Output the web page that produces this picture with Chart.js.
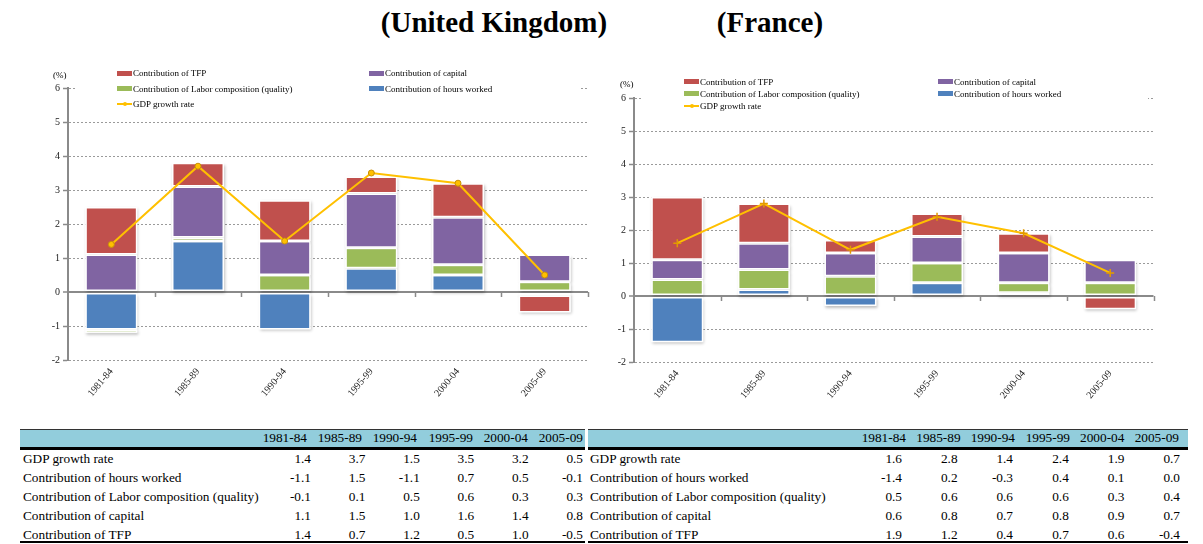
<!DOCTYPE html>
<html>
<head>
<meta charset="utf-8">
<script src="https://cdn.jsdelivr.net/npm/chart.js@4/dist/chart.umd.min.js"></script>
<style>
  html, body { margin: 0; padding: 0; background: #fff; }
  body { width: 1203px; height: 544px; position: relative; overflow: hidden;
         font-family: 'Liberation Serif', 'Times New Roman', serif; color: #000; }
  .abs { position: absolute; white-space: nowrap; }
  .title { font-weight: bold; font-size: 29px; line-height: 34px; }
  .lg { font-size: 9px; line-height: 12px; }
  .tb { font-size: 13.3px; line-height: 16px; }
  canvas { position: absolute; }
</style>
</head>
<body>
<div class="abs title" id="t-uk">(United Kingdom)</div>
<div class="abs title" id="t-fr">(France)</div>
<canvas id="uk" width="600" height="370" style="left:0;top:50px;width:600px;height:370px"></canvas>
<canvas id="fr" width="600" height="370" style="left:590px;top:60px;width:600px;height:370px"></canvas>

<script>
// Periods and tick values
const PERIODS = ['1981-84', '1985-89', '1990-94', '1995-99', '2000-04', '2005-09'];
const Y_MIN = -2;
const Y_MAX = 6;

// United Kingdom (%)
const UK_GDP     = [1.4, 3.7, 1.5, 3.5, 3.2, 0.5];
const UK_HOURS   = [-1.1, 1.5, -1.1, 0.7, 0.5, -0.1];
const UK_LABOR   = [-0.1, 0.1, 0.5, 0.6, 0.3, 0.3];
const UK_CAPITAL = [1.1, 1.5, 1.0, 1.6, 1.4, 0.8];
const UK_TFP     = [1.4, 0.7, 1.2, 0.5, 1.0, -0.5];

// France (%)
const FR_GDP     = [1.6, 2.8, 1.4, 2.4, 1.9, 0.7];
const FR_HOURS   = [-1.4, 0.2, -0.3, 0.4, 0.1, 0.0];
const FR_LABOR   = [0.5, 0.6, 0.6, 0.6, 0.3, 0.4];
const FR_CAPITAL = [0.6, 0.8, 0.7, 0.8, 0.9, 0.7];
const FR_TFP     = [1.9, 1.2, 0.4, 0.7, 0.6, -0.4];

const ROW_NAMES = ['GDP growth rate', 'Contribution of hours worked',
  'Contribution of Labor composition (quality)', 'Contribution of capital', 'Contribution of TFP'];

const C_TFP = '#C0504D', C_CAP = '#8064A2', C_LAB = '#9BBB59', C_HRS = '#4F81BD', C_GDP = '#FFC000';
const SERIF = "'Liberation Serif', 'Times New Roman', serif";
const AXIS_GREY = '#8a8a8a';

function el(cls, text, css) {
  const d = document.createElement('div');
  d.className = 'abs ' + cls;
  if (text !== null) d.textContent = text;
  Object.assign(d.style, css);
  document.body.appendChild(d);
  return d;
}

// Titles
(function () {
  const uk = document.getElementById('t-uk');
  const fr = document.getElementById('t-fr');
  uk.style.left = '300px'; uk.style.width = '388px'; uk.style.textAlign = 'center'; uk.style.top = '5px';
  fr.style.left = '620px'; fr.style.width = '300px'; fr.style.textAlign = 'center'; fr.style.top = '5px';
})();

// Soft drop shadow behind each bar segment
const barShadow = {
  id: 'barShadow',
  beforeDatasetsDraw(chart) {
    const ctx = chart.ctx;
    ctx.save();
    ctx.shadowColor = 'rgba(0,0,0,0.25)';
    ctx.shadowBlur = 3;
    ctx.shadowOffsetX = 1;
    ctx.shadowOffsetY = 2;
    ctx.fillStyle = '#fff';
    chart.data.datasets.forEach((ds, i) => {
      const meta = chart.getDatasetMeta(i);
      if (meta.type !== 'bar') return;
      meta.data.forEach(b => {
        const p = b.getProps(['x', 'y', 'base', 'width'], true);
        const top = Math.min(p.y, p.base), h = Math.abs(p.base - p.y);
        if (h < 0.5) return;
        ctx.fillRect(p.x - p.width / 2, top, p.width, h);
      });
    });
    ctx.restore();
  }
};

// Tick marks hanging from the zero line at the category boundaries
const zeroAxisTicks = {
  id: 'zeroAxisTicks',
  afterDatasetsDraw(chart) {
    const { ctx, scales: { x, y } } = chart;
    const y0 = y.getPixelForValue(0);
    const n = chart.data.labels.length;
    ctx.save();
    ctx.strokeStyle = AXIS_GREY;
    ctx.lineWidth = 1.5;
    ctx.beginPath();
    for (let i = 1; i <= n; i++) {
      const px = Math.round(x.getPixelForValue(i - 0.5)) + 0.5;
      ctx.moveTo(px, y0);
      ctx.lineTo(px, y0 + 5);
    }
    ctx.stroke();
    ctx.restore();
  }
};

function makeChart(id, d, geo) {
  const isZero = c => c.tick && c.tick.value === 0;
  return new Chart(document.getElementById(id), {
    type: 'bar',
    data: {
      labels: PERIODS,
      datasets: [
        { type: 'line', label: 'GDP growth rate', data: d.gdp, stack: 'gdp', order: 0,
          borderColor: C_GDP, borderWidth: 2, tension: 0,
          pointStyle: geo.point, pointRadius: geo.pointRadius,
          pointBackgroundColor: C_GDP, pointBorderColor: geo.pointBorder, pointBorderWidth: geo.pointBorderWidth },
        { label: 'Contribution of hours worked', data: d.hours, backgroundColor: C_HRS, stack: 's', order: 1 },
        { label: 'Contribution of Labor composition (quality)', data: d.labor, backgroundColor: C_LAB, stack: 's', order: 1 },
        { label: 'Contribution of capital', data: d.capital, backgroundColor: C_CAP, stack: 's', order: 1 },
        { label: 'Contribution of TFP', data: d.tfp, backgroundColor: C_TFP, stack: 's', order: 1 }
      ]
    },
    options: {
      responsive: false,
      animation: false,
      devicePixelRatio: 1,
      layout: { padding: { left: 0, right: geo.padRight, top: geo.padTop, bottom: 0 } },
      datasets: {
        bar: { barPercentage: 0.6, categoryPercentage: 1, borderColor: '#ffffff', borderWidth: 1.5, borderSkipped: false }
      },
      plugins: { legend: { display: false }, tooltip: { enabled: false }, title: { display: false } },
      scales: {
        x: {
          stacked: true,
          grid: { display: false, drawTicks: false },
          border: { display: false },
          afterFit: s => { s.height = geo.xHeight; },
          ticks: { minRotation: 50, maxRotation: 50, padding: 6, color: '#222',
                   font: { family: SERIF, size: 10 } }
        },
        y: {
          stacked: true,
          min: Y_MIN, max: Y_MAX,
          afterFit: s => { s.width = geo.yWidth; },
          ticks: { stepSize: 1, padding: 3, color: '#222', font: { family: SERIF, size: 10 } },
          grid: {
            color: c => isZero(c) ? AXIS_GREY : '#9a9a9a',
            lineWidth: c => isZero(c) ? 2 : 1,
            tickLength: 5,
            tickColor: AXIS_GREY,
            tickWidth: 1.5
          },
          border: { display: true, color: AXIS_GREY, width: 2, dash: c => isZero(c) ? [] : [2, 2] }
        }
      }
    },
    plugins: [barShadow, zeroAxisTicks]
  });
}

makeChart('uk',
  { gdp: UK_GDP, hours: UK_HOURS, labor: UK_LABOR, capital: UK_CAPITAL, tfp: UK_TFP },
  { padTop: 38, padRight: 12, yWidth: 68, xHeight: 60, point: 'circle', pointRadius: 3,
    pointBorder: '#C8900A', pointBorderWidth: 1 });

makeChart('fr',
  { gdp: FR_GDP, hours: FR_HOURS, labor: FR_LABOR, capital: FR_CAPITAL, tfp: FR_TFP },
  { padTop: 38, padRight: 36.5, yWidth: 44, xHeight: 68, point: 'cross', pointRadius: 4,
    pointBorder: '#E29A00', pointBorderWidth: 1.5 });

// Legend blocks (two columns, GDP line underneath)
function legend(box, rows, cols, unitLeft) {
  el('', null, { left: box.l + 'px', top: box.t + 'px', width: box.w + 'px', height: box.h + 'px', background: '#fff' });
  const items = [
    { name: 'Contribution of TFP', c: C_TFP, r: 0, k: 0 },
    { name: 'Contribution of capital', c: C_CAP, r: 0, k: 1 },
    { name: 'Contribution of Labor composition (quality)', c: C_LAB, r: 1, k: 0 },
    { name: 'Contribution of hours worked', c: C_HRS, r: 1, k: 1 },
    { name: 'GDP growth rate', c: C_GDP, r: 2, k: 0, line: true }
  ];
  items.forEach(it => {
    const x = cols[it.k], yc = rows[it.r];
    if (it.line) {
      el('', null, { left: x + 'px', top: (yc - 1) + 'px', width: '15px', height: '2px', background: C_GDP });
      el('', null, { left: (x + 5.5) + 'px', top: (yc - 2) + 'px', width: '4px', height: '4px', background: C_GDP,
                     borderRadius: '2px' });
    } else {
      el('', null, { left: x + 'px', top: (yc - 2.5) + 'px', width: '15px', height: '5px', background: it.c });
    }
    el('lg', it.name, { left: (x + 16) + 'px', top: (yc - 6) + 'px' });
  });
  el('lg', '(%)', { left: unitLeft.x + 'px', top: (unitLeft.y - 6) + 'px' });
}

legend({ l: 76, t: 64, w: 505, h: 48 }, [73, 88.5, 104], [117, 369], { x: 53, y: 75 });
legend({ l: 643, t: 75, w: 505, h: 36 }, [81.5, 93.5, 105.5], [684, 938], { x: 620, y: 84 });

// Data tables
function table(left, right, labelX, headRight, valRight, series) {
  el('', null, { left: left + 'px', top: '429px', width: (right - left) + 'px', height: '17px',
                 background: '#92CDDC', borderTop: '1px solid #333', borderBottom: '3px solid #000' });
  el('', null, { left: left + 'px', top: '541px', width: (right - left) + 'px', height: '2px', background: '#000' });
  PERIODS.forEach((p, i) => {
    el('tb', p, { left: (headRight[i] - 80) + 'px', width: '80px', textAlign: 'right', top: '430px' });
  });
  const rowY = [459, 478, 497, 516, 535];
  ROW_NAMES.forEach((name, r) => {
    el('tb', name, { left: labelX + 'px', top: (rowY[r] - 8) + 'px' });
    series[r].forEach((v, i) => {
      el('tb', v.toFixed(1), { left: (valRight[i] - 60) + 'px', width: '60px', textAlign: 'right',
                               top: (rowY[r] - 8) + 'px' });
    });
  });
}

table(20, 585, 23,
  [307, 362, 417, 473, 528, 583], [311, 365.4, 419.8, 474.2, 528.6, 583],
  [UK_GDP, UK_HOURS, UK_LABOR, UK_CAPITAL, UK_TFP]);
table(588, 1188, 590,
  [906, 960.6, 1015, 1070, 1124.4, 1179], [902, 957.6, 1013, 1068.8, 1124.4, 1180],
  [FR_GDP, FR_HOURS, FR_LABOR, FR_CAPITAL, FR_TFP]);
</script>
</body>
</html>
